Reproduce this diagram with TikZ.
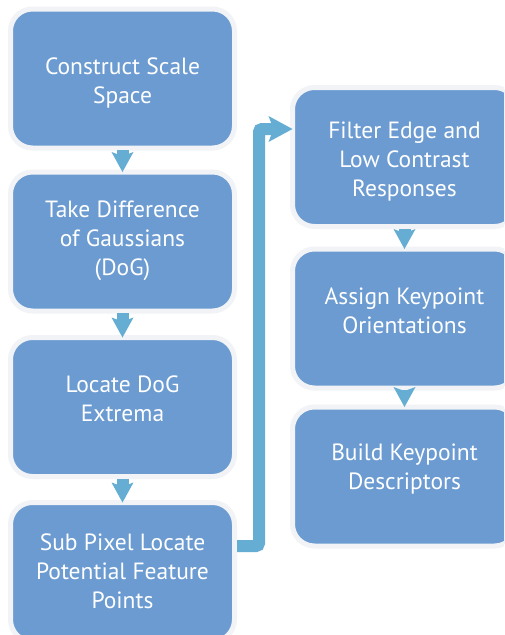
\documentclass[tikz,border=0pt]{standalone}
\usepackage{fontspec}
\setmainfont{PT Sans}
\usetikzlibrary{arrows.meta}
\definecolor{boxblue}{HTML}{6B9BD1}
\definecolor{rimgrey}{HTML}{F1F3F6}
\definecolor{flowblue}{HTML}{65ADD3}

\begin{document}
\begin{tikzpicture}[x=1pt,y=-1pt,
  stepbox/.style={draw=rimgrey, fill=boxblue, line width=5pt, rounded corners=22pt,
    minimum width=224pt, minimum height=139pt, outer sep=0pt, inner sep=0pt},
  caption/.style={text=white, font=\fontsize{23.5}{29}\selectfont, align=center,
    anchor=base, inner sep=0pt},
  flow/.style={draw=flowblue, line width=12pt, shorten <=2pt,
    -{Stealth[length=20pt,width=22pt,inset=4pt,line width=0pt]}},
  elbow/.style={draw=flowblue, line width=12pt, rounded corners=3pt,
    -{Stealth[length=24pt,width=26pt,inset=5pt,line width=0pt]}}]

\useasboundingbox (0,0) rectangle (504,635);
\clip (0,0) rectangle (504,635);
\fill[white] (0,0) rectangle (504,635);

% left column
\node[stepbox] (b1) at (122.5,78.5) {};
\node[stepbox] (b2) at (122.5,241.5) {};
\node[stepbox] (b3) at (122.5,407) {};
\node[stepbox] (b4) at (122.5,572) {};
% right column
\node[stepbox] (b5) at (404.5,157) {};
\node[stepbox] (b6) at (404.5,318.5) {};
\node[stepbox] (b7) at (404.5,476.5) {};

% connectors
\draw[flow] (b1) -- (b2);
\draw[flow] (b2) -- (b3);
\draw[flow] (b3) -- (b4);
\draw[flow] (b5) -- (b6);
\draw[flow] (b6) -- (b7);
\coordinate (bend) at (259,129);
\draw[elbow] ([xshift=2.5pt,yshift=26pt]b4.east) -| (bend) -- ([yshift=28pt]b5.west);

% captions (placed by the baseline of their last line)
\node[caption] (t1) at (122.5,103) {Construct Scale\\Space};
\node[caption] (t2) at (122.5,275) {Take Difference\\of Gaussians\\(DoG)};
\node[caption] (t3) at (122.5,421) {Locate DoG\\Extrema};
\node[caption] (t4) at (122.5,608) {Sub Pixel Locate\\Potential Feature\\Points};
\node[caption] (t5) at (404.5,196.5) {Filter Edge and\\Low Contrast\\Responses};
\node[caption] (t6) at (404.5,333) {Assign Keypoint\\Orientations};
\node[caption] (t7) at (404.5,489) {Build Keypoint\\Descriptors};
\end{tikzpicture}
\end{document}
